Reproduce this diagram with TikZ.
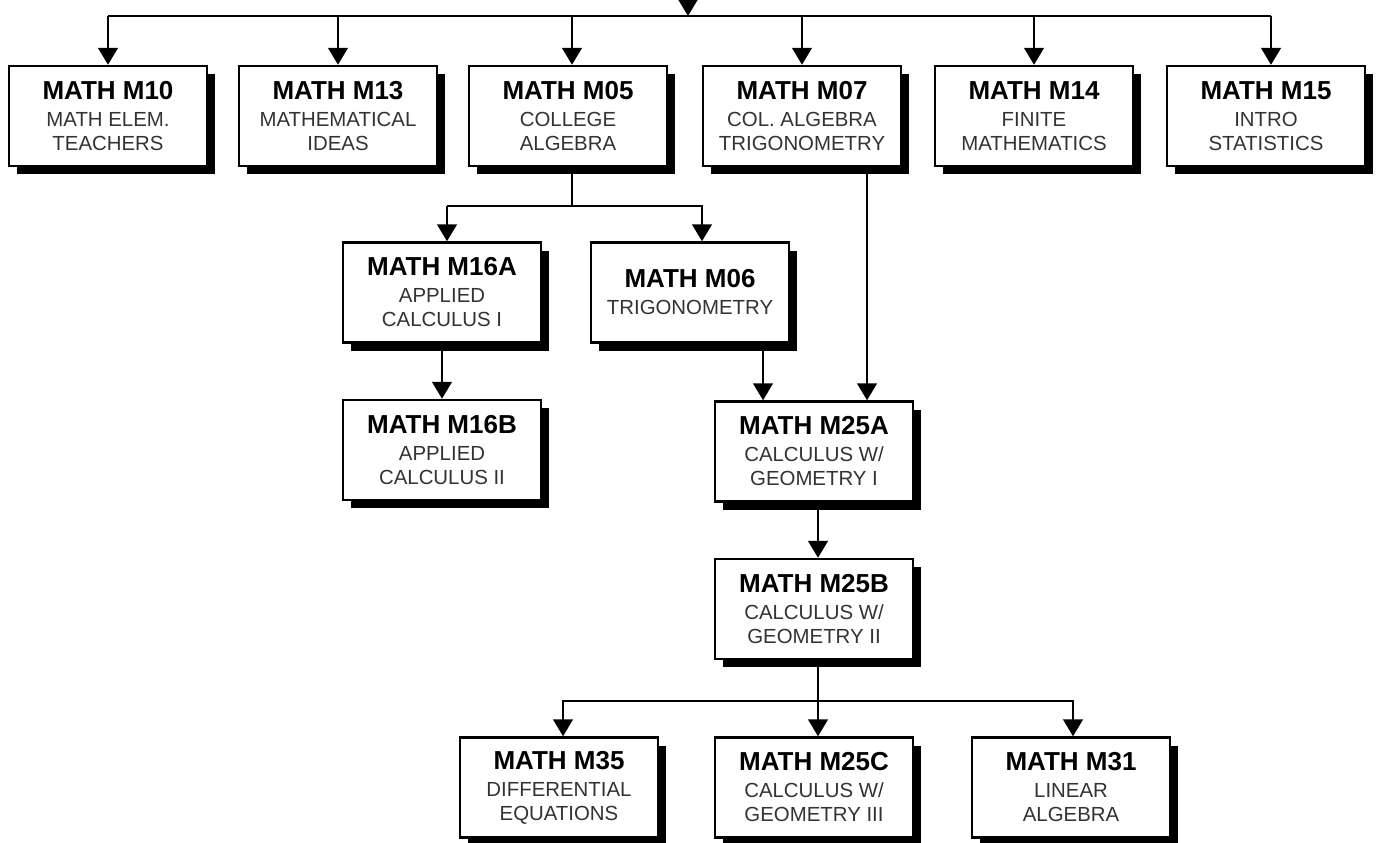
\documentclass[tikz,border=0pt]{standalone}
\usepackage{fontspec}
\setmainfont{Liberation Sans}
\usepackage{tikz}
\usetikzlibrary{positioning}
\usetikzlibrary{arrows.meta,shadows,calc}
\usepackage{xcolor}

\tikzset{
  course/.style={draw, line width=1.25pt, fill=white, minimum width=99pt, minimum height=50pt,
    inner sep=0pt, align=center, font=\fontsize{10.2}{12}\selectfont, text=black!80,
    drop shadow={shadow xshift=4pt, shadow yshift=-4pt, fill=black, opacity=1}},
  link/.style={line width=0.75pt},
  arr/.style={line width=0.75pt, -{Triangle[width=10pt,length=8.5pt]}}
}
\newcommand{\ctitle}[1]{{\color{black}\bfseries\fontsize{13}{13}\selectfont #1}\\[1.5pt]}

\begin{document}
\begin{tikzpicture}[x=0.5pt,y=-0.5pt]

\useasboundingbox (0,0) rectangle (1377,842);

% first row
\node[course] (m10) at (108,116)  {\ctitle{MATH M10}MATH ELEM.\\TEACHERS};
\node[course] (m13) at (338,116)  {\ctitle{MATH M13}MATHEMATICAL\\IDEAS};
\node[course] (m05) at (568,116)  {\ctitle{MATH M05}COLLEGE\\ALGEBRA};
\node[course] (m07) at (802,116)  {\ctitle{MATH M07}COL. ALGEBRA\\TRIGONOMETRY};
\node[course] (m14) at (1034,116) {\ctitle{MATH M14}FINITE\\MATHEMATICS};
\node[course] (m15) at (1266,116) {\ctitle{MATH M15}INTRO\\STATISTICS};

% second row
\node[course] (m16a) at (442,292.5) {\ctitle{MATH M16A}APPLIED\\CALCULUS I};
\node[course] (m06)  at (690,292.5) {\ctitle{MATH M06}TRIGONOMETRY};

\node[course] (m16b) at (442,450)   {\ctitle{MATH M16B}APPLIED\\CALCULUS II};
\node[course] (m25a) at (814,451.5) {\ctitle{MATH M25A}CALCULUS W/\\GEOMETRY I};
\node[course] (m25b) at (814,609)   {\ctitle{MATH M25B}CALCULUS W/\\GEOMETRY II};

% last row
\node[course] (m35)  at (559,787.5)  {\ctitle{MATH M35}DIFFERENTIAL\\EQUATIONS};
\node[course] (m25c) at (814,787.5)  {\ctitle{MATH M25C}CALCULUS W/\\GEOMETRY III};
\node[course] (m31)  at (1071,787.5) {\ctitle{MATH M31}LINEAR\\ALGEBRA};

% connectors
\coordinate (start) at (688,0);
\coordinate (bus) at (688,16);
\coordinate (split1) at (572,206);
\coordinate (split2) at (818,701);

\draw[arr] (start) -- (bus);
\draw[link] (bus -| m10.north) -- ([xshift=2.5pt]bus -| m15.north);
\draw[arr] (bus -| m10.north) -- (m10.north);
\draw[arr] (bus -| m13.north) -- (m13.north);
\draw[arr] (bus -| split1) -- (split1 |- m05.north);
\draw[arr] (bus -| m07.north) -- (m07.north);
\draw[arr] (bus -| m14.north) -- (m14.north);
\draw[arr] ([xshift=2.5pt]bus -| m15.north) -- ([xshift=2.5pt]m15.north);

\draw[link] (split1 |- m05.south) -- (split1);
\draw[link] (split1) -- ([xshift=2.5pt]split1 -| m16a.north);
\draw[arr] ([xshift=2.5pt]split1 -| m16a.north) -- ([xshift=2.5pt]m16a.north);
\draw[arr] (split1) -| ([xshift=6pt]m06.north);

\draw[arr] (m16a) -- (m16b);
\draw[arr] ([xshift=36.5pt]m06.south) -- ([xshift=36.5pt]m06.south |- m25a.north);
\draw[arr] ([xshift=32.5pt]m07.south) -- ([xshift=32.5pt]m07.south |- m25a.north);
\draw[arr] (split2 |- m25a.south) -- (split2 |- m25b.north);

\draw[link] (split2 |- m25b.south) -- (split2);
\draw[arr] (split2) -| ([xshift=2pt]m35.north);
\draw[arr] (split2) -- (split2 |- m25c.north);
\draw[arr] (split2) -| ([xshift=1pt]m31.north);

\end{tikzpicture}
\end{document}
